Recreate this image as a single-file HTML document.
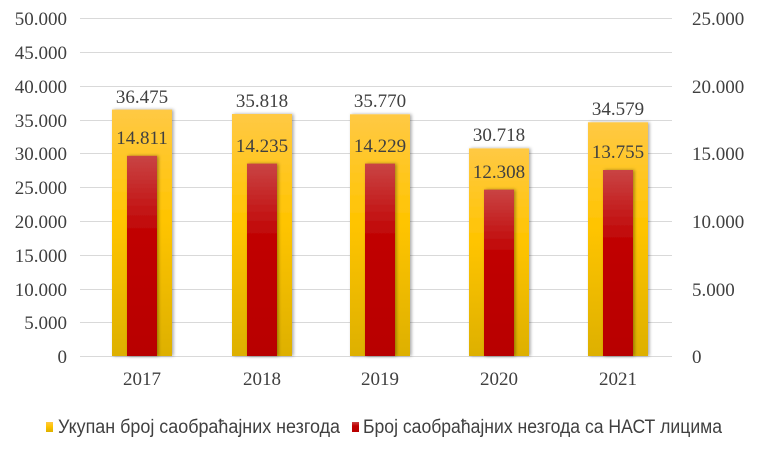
<!DOCTYPE html>
<html><head><meta charset="utf-8"><style>html,body{margin:0;padding:0;background:#fff}svg{display:block}</style></head><body>
<svg width="760" height="449" xmlns="http://www.w3.org/2000/svg">
<defs>
<linearGradient id="y" x1="0" y1="0" x2="0" y2="1"><stop offset="0" stop-color="#FFC944"/><stop offset="0.45" stop-color="#FFC400"/><stop offset="1" stop-color="#DDB000"/></linearGradient>
<linearGradient id="r" x1="0" y1="0" x2="0" y2="1"><stop offset="0" stop-color="#C94444"/><stop offset="0.4" stop-color="#C00000"/><stop offset="1" stop-color="#B80000"/></linearGradient>
<filter id="s" x="-20%" y="-5%" width="140%" height="110%"><feDropShadow dx="1.5" dy="0" stdDeviation="1.5" flood-opacity="0.35"/></filter>
</defs>
<g stroke="#d9d9d9" stroke-width="1">
<line x1="80" x2="672" y1="18.5" y2="18.5"/><line x1="80" x2="672" y1="52.5" y2="52.5"/><line x1="80" x2="672" y1="86.5" y2="86.5"/><line x1="80" x2="672" y1="120.5" y2="120.5"/><line x1="80" x2="672" y1="153.5" y2="153.5"/><line x1="80" x2="672" y1="187.5" y2="187.5"/><line x1="80" x2="672" y1="221.5" y2="221.5"/><line x1="80" x2="672" y1="255.5" y2="255.5"/><line x1="80" x2="672" y1="289.5" y2="289.5"/><line x1="80" x2="672" y1="322.5" y2="322.5"/><line x1="80" x2="672" y1="356.5" y2="356.5"/>
</g>
<g font-family="Liberation Serif, serif" font-size="19" fill="#404040" text-anchor="end">
<text x="67" y="25">50.000</text><text x="67" y="59">45.000</text><text x="67" y="93">40.000</text><text x="67" y="127">35.000</text><text x="67" y="160">30.000</text><text x="67" y="194">25.000</text><text x="67" y="228">20.000</text><text x="67" y="262">15.000</text><text x="67" y="296">10.000</text><text x="67" y="329">5.000</text><text x="67" y="363">0</text>
</g>
<g font-family="Liberation Serif, serif" font-size="19" fill="#404040" text-anchor="start">
<text x="692" y="25">25.000</text><text x="692" y="93">20.000</text><text x="692" y="160">15.000</text><text x="692" y="228">10.000</text><text x="692" y="296">5.000</text><text x="692" y="363">0</text>
</g>
<g filter="url(#s)">
<rect x="112" y="109.6" width="60" height="246.4" fill="url(#y)"/>
<rect x="232" y="114" width="60" height="242" fill="url(#y)"/>
<rect x="350" y="114.3" width="60" height="241.7" fill="url(#y)"/>
<rect x="469" y="148.4" width="60" height="207.6" fill="url(#y)"/>
<rect x="588" y="122.3" width="60" height="233.7" fill="url(#y)"/>
</g>
<g filter="url(#s)">
<rect x="127" y="155.8" width="30" height="200.2" fill="url(#r)"/>
<rect x="247" y="163.6" width="30" height="192.4" fill="url(#r)"/>
<rect x="365" y="163.6" width="30" height="192.4" fill="url(#r)"/>
<rect x="484" y="189.6" width="30" height="166.4" fill="url(#r)"/>
<rect x="603" y="170" width="30" height="186" fill="url(#r)"/>
</g>
<g font-family="Liberation Serif, serif" font-size="19" fill="#404040" text-anchor="middle">
<text x="142" y="103">36.475</text><text x="262" y="107">35.818</text><text x="380" y="107">35.770</text><text x="499" y="141">30.718</text><text x="618" y="115">34.579</text>
<text x="142" y="144">14.811</text><text x="262" y="152">14.235</text><text x="380" y="152">14.229</text><text x="499" y="178">12.308</text><text x="618" y="158">13.755</text>
<text x="142" y="385">2017</text><text x="262" y="385">2018</text><text x="380" y="385">2019</text><text x="499" y="385">2020</text><text x="618" y="385">2021</text>
</g>
<rect x="46" y="422" width="7" height="10" fill="url(#y)"/>
<rect x="352" y="422" width="7" height="10" fill="url(#r)"/>
<g font-family="Liberation Sans, sans-serif" font-size="19" fill="#404040">
<text x="58" y="433" textLength="282" lengthAdjust="spacingAndGlyphs">Укупан број саобраћајних незгода</text>
<text x="363" y="433" textLength="359" lengthAdjust="spacingAndGlyphs">Број саобраћајних незгода са НАСТ лицима</text>
</g>
</svg>
</body></html>
